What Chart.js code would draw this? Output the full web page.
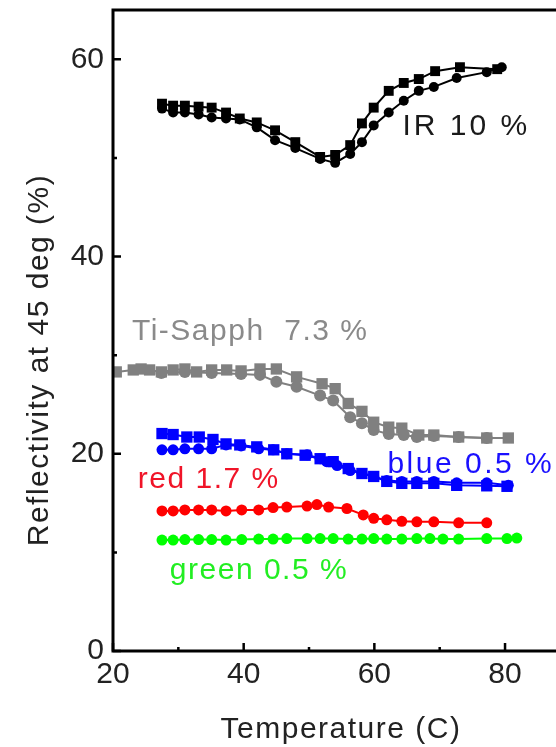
<!DOCTYPE html>
<html>
<head>
<meta charset="utf-8">
<script src="https://cdn.jsdelivr.net/npm/chart.js@4.4.1/dist/chart.umd.min.js"></script>
<style>
  html, body { margin: 0; padding: 0; background: #fff; overflow: hidden; }
  canvas { display: block; }
</style>
</head>
<body>
<canvas id="reflChart" width="556" height="747"></canvas>
<script>
// IR, heating and cooling runs (temperature C, reflectivity %)
var irUpT = [27.5, 29.2, 31.0, 33.1, 35.1, 37.3, 39.4, 42.0, 44.8, 47.9, 51.7, 54.0, 56.3, 58.1, 59.9, 62.2, 64.5, 66.8, 69.3, 73.1, 78.8];
var irUpR = [55.5, 55.3, 55.3, 55.2, 55.1, 54.6, 54.0, 53.6, 52.8, 51.6, 50.1, 50.3, 51.3, 53.5, 55.1, 56.8, 57.6, 58.0, 58.8, 59.2, 59.0];
var irDnT = [27.5, 29.2, 31.0, 33.1, 35.1, 37.3, 39.4, 42.0, 44.8, 47.9, 51.7, 54.0, 56.3, 58.1, 59.9, 62.2, 64.5, 66.8, 69.1, 72.6, 77.2, 79.5];
var irDnR = [55.0, 54.6, 54.6, 54.4, 54.1, 54.0, 53.9, 53.1, 51.8, 51.0, 49.9, 49.5, 50.4, 51.6, 53.3, 54.6, 55.8, 56.8, 57.2, 58.1, 58.7, 59.2];

// Ti-Sapph
var tiUpT = [20.5, 23.1, 24.3, 25.6, 27.4, 29.2, 31.0, 32.8, 35.1, 37.4, 39.6, 42.5, 45.0, 48.1, 52.0, 54.0, 56.0, 58.1, 59.9, 62.2, 64.2, 66.8, 69.1, 72.9, 77.2, 80.5];
var tiUpR = [28.3, 28.5, 28.6, 28.5, 28.3, 28.5, 28.6, 28.3, 28.5, 28.5, 28.4, 28.6, 28.6, 27.8, 27.1, 26.6, 25.1, 24.3, 23.2, 22.7, 22.6, 21.9, 21.9, 21.7, 21.6, 21.6];
var tiDnT = [27.4, 31.0, 35.1, 39.6, 42.5, 45.0, 48.1, 51.7, 53.7, 56.3, 58.1, 59.9, 62.2, 64.5, 66.5, 69.1, 72.9, 77.2];
var tiDnR = [28.2, 28.3, 28.2, 28.1, 28.0, 27.3, 26.8, 25.9, 25.4, 23.7, 23.1, 22.4, 22.0, 21.9, 21.7, 21.8, 21.7, 21.6];

// blue
var blUpT = [27.5, 29.2, 31.3, 33.2, 35.3, 37.3, 39.4, 42.0, 44.6, 46.6, 49.4, 51.7, 53.7, 56.0, 58.1, 59.9, 61.9, 64.2, 66.5, 69.1, 72.6, 77.2, 80.3];
var blUpR = [22.05, 21.95, 21.7, 21.7, 21.45, 21.0, 20.9, 20.7, 20.4, 20.0, 19.85, 19.5, 19.2, 18.5, 18.0, 17.7, 17.2, 17.0, 17.0, 17.0, 16.8, 16.75, 16.7];
var blDnT = [27.5, 29.2, 31.0, 33.1, 35.1, 37.3, 39.6, 42.3, 44.5, 46.6, 49.7, 51.7, 52.7, 54.3, 56.3, 58.1, 59.9, 61.9, 64.2, 66.5, 69.1, 72.6, 77.2, 80.5];
var blDnR = [20.4, 20.4, 20.5, 20.5, 20.5, 20.9, 20.8, 20.5, 20.4, 20.0, 19.9, 19.5, 19.2, 18.8, 18.3, 18.0, 17.7, 17.3, 17.2, 17.2, 17.2, 17.05, 17.05, 16.8];

// red
var redT = [27.5, 29.2, 31.0, 33.1, 35.1, 37.3, 39.7, 42.3, 44.5, 46.6, 49.7, 51.2, 53.0, 55.8, 58.3, 59.9, 61.9, 64.2, 66.5, 69.1, 72.9, 77.2];
var redR = [14.2, 14.2, 14.3, 14.3, 14.3, 14.2, 14.3, 14.3, 14.55, 14.6, 14.7, 14.85, 14.6, 14.45, 13.8, 13.45, 13.3, 13.15, 13.1, 13.1, 13.0, 13.0];

// green
var grT = [27.5, 29.2, 31.0, 33.1, 35.1, 37.3, 39.7, 42.3, 44.5, 46.6, 49.7, 51.7, 53.7, 56.0, 58.1, 59.9, 61.9, 64.2, 66.5, 68.5, 70.5, 72.9, 77.2, 80.3, 81.8];
var grR = [11.25, 11.25, 11.3, 11.3, 11.3, 11.25, 11.3, 11.35, 11.35, 11.4, 11.4, 11.4, 11.4, 11.35, 11.35, 11.4, 11.35, 11.35, 11.4, 11.4, 11.35, 11.35, 11.4, 11.4, 11.45];

// axes
var xMajor = [20, 40, 60, 80];
var xMinor = [30, 50, 70];
var yMajor = [0, 20, 40, 60];
var yMinor = [10, 30, 50];

var FONT = '"Liberation Sans", Arial, sans-serif';

function pts(xs, ys) {
	var out = [];
	for (var i = 0; i < xs.length; i++) out.push({x: xs[i], y: ys[i]});
	return out;
}

function series(xs, ys, color, style, r) {
	return {
		data: pts(xs, ys),
		showLine: true,
		borderColor: color,
		backgroundColor: color,
		borderWidth: 2,
		pointStyle: style,
		pointRadius: r,
		pointHoverRadius: r,
		pointBorderWidth: 0
	};
}

// in-plot labels, placed in data units
var notes = [
	{text: 'IR 10 %', x: 64.3, y: 52.3, color: '#1a1a1a', gap: '3px'},
	{text: 'Ti-Sapph  7.3 %', x: 22.9, y: 31.5, color: '#8a8a8a', gap: '1.5px'},
	{text: 'blue 0.5 %', x: 62.0, y: 18.1, color: '#1a10ff', gap: '2.5px'},
	{text: 'red 1.7 %', x: 23.8, y: 16.5, color: '#f01428', gap: '1.5px'},
	{text: 'green 0.5 %', x: 28.7, y: 7.3, color: '#22ee22', gap: '1.5px'}
];

var frame = {
	id: 'frame',
	afterDraw: function(chart) {
		var ctx = chart.ctx, a = chart.chartArea;
		var sx = chart.scales.x, sy = chart.scales.y;
		ctx.save();
		ctx.strokeStyle = '#000';
		ctx.lineWidth = 3;
		ctx.beginPath();
		ctx.moveTo(a.left, a.top);
		ctx.lineTo(a.right, a.top);
		ctx.moveTo(a.left, a.top - 1.5);
		ctx.lineTo(a.left, a.bottom + 1.5);
		ctx.moveTo(a.left, a.bottom);
		ctx.lineTo(a.right, a.bottom);
		ctx.stroke();

		// inward ticks
		ctx.lineWidth = 2.5;
		ctx.beginPath();
		xMajor.forEach(function(v) {
			var p = sx.getPixelForValue(v);
			ctx.moveTo(p, a.bottom); ctx.lineTo(p, a.bottom - 8);
		});
		xMinor.forEach(function(v) {
			var p = sx.getPixelForValue(v);
			ctx.moveTo(p, a.bottom); ctx.lineTo(p, a.bottom - 4);
		});
		yMajor.forEach(function(v) {
			var p = sy.getPixelForValue(v);
			ctx.moveTo(a.left, p); ctx.lineTo(a.left + 8, p);
		});
		yMinor.forEach(function(v) {
			var p = sy.getPixelForValue(v);
			ctx.moveTo(a.left, p); ctx.lineTo(a.left + 4, p);
		});
		ctx.stroke();

		ctx.font = '30px ' + FONT;
		ctx.textAlign = 'left';
		ctx.textBaseline = 'alphabetic';
		notes.forEach(function(n) {
			ctx.letterSpacing = n.gap;
			ctx.fillStyle = n.color;
			ctx.fillText(n.text, sx.getPixelForValue(n.x), sy.getPixelForValue(n.y));
		});

		// axis titles
		ctx.letterSpacing = '1.5px';
		ctx.fillStyle = '#222';
		ctx.textAlign = 'center';
		ctx.fillText('Temperature (C)', 341, 738);
		ctx.translate(48, 360);
		ctx.rotate(-Math.PI / 2);
		ctx.fillText('Reflectivity at 45 deg (%)', 0, 0);
		ctx.restore();
	}
};

var chart = new Chart(document.getElementById('reflChart'), {
	type: 'scatter',
	data: {
		datasets: [
			series(irUpT, irUpR, '#000', 'rect', 7),
			series(irDnT, irDnR, '#000', 'circle', 5),
			series(tiUpT, tiUpR, '#808080', 'rect', 8),
			series(tiDnT, tiDnR, '#808080', 'circle', 6),
			series(blUpT, blUpR, '#0000ff', 'rect', 8),
			series(blDnT, blDnR, '#0000ff', 'circle', 5.5),
			series(redT, redR, '#ff0000', 'circle', 5.5),
			series(grT, grR, '#00ff00', 'circle', 5.5)
		]
	},
	options: {
		responsive: false,
		animation: false,
		layout: {autoPadding: false, padding: {top: 10, right: 0, left: 0, bottom: 0}},
		plugins: {legend: {display: false}, tooltip: {enabled: false}},
		scales: {
			x: {
				type: 'linear',
				min: 20,
				max: 87.8,
				grid: {display: false, drawTicks: false},
				border: {display: false},
				afterBuildTicks: function(s) { s.ticks = xMajor.map(function(v) { return {value: v}; }); },
				afterFit: function(s) { s.height = 96; s.paddingLeft = 0; s.paddingRight = 0; },
				ticks: {padding: 6, color: '#222', font: {family: FONT, size: 30}, maxRotation: 0}
			},
			y: {
				type: 'linear',
				min: 0,
				max: 65,
				grid: {display: false, drawTicks: false},
				border: {display: false},
				afterBuildTicks: function(s) { s.ticks = yMajor.map(function(v) { return {value: v}; }); },
				afterFit: function(s) { s.width = 113; s.paddingTop = 0; s.paddingBottom = 0; },
				ticks: {padding: 9, color: '#222', font: {family: FONT, size: 30}}
			}
		}
	},
	plugins: [frame]
});
</script>
</body>
</html>
